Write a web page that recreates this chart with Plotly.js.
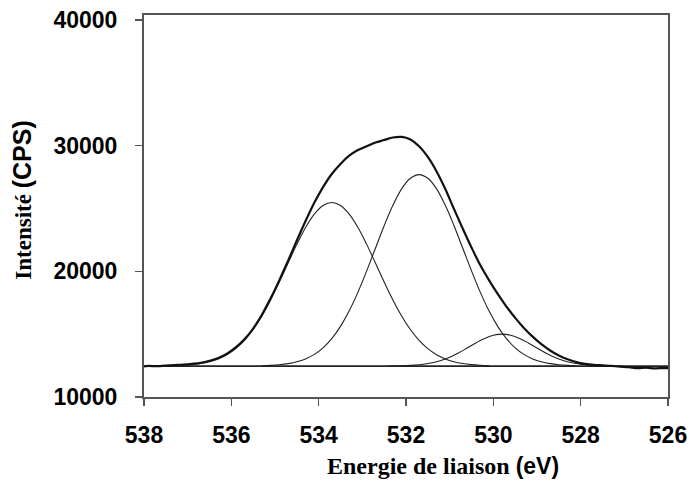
<!DOCTYPE html>
<html>
<head>
<meta charset="utf-8">
<script src="https://cdn.plot.ly/plotly-3.0.1.min.js"></script>
<style>html,body{margin:0;padding:0;background:#fff;}#chart{width:694px;height:488px;}</style>
</head>
<body>
<div id="chart"></div>
<script>
// Measured spectrum (envelope)
var envE = [538.0,537.9,537.7,537.5,537.3,537.1,536.9,536.7,536.5,536.3,536.1,535.9,535.7,535.5,535.3,535.1,534.9,534.7,534.5,534.3,534.1,533.9,533.7,533.5,533.3,533.1,532.9,532.7,532.5,532.3,532.1,531.9,531.7,531.5,531.3,531.1,530.9,530.7,530.5,530.3,530.1,529.9,529.7,529.5,529.3,529.1,528.9,528.7,528.5,528.3,528.1,527.9,527.7,527.5,527.3,527.1,526.9,526.7,526.5,526.3,526.1,526.0];
var envI = [12440,12470,12450,12500,12540,12580,12640,12720,12880,13100,13450,13950,14600,15450,16550,17850,19300,20850,22450,24000,25450,26700,27750,28550,29200,29650,29950,30250,30450,30650,30700,30500,29950,29100,27950,26550,24950,23400,21900,20500,19300,18200,17200,16300,15500,14800,14200,13700,13300,13000,12780,12640,12560,12520,12470,12420,12380,12300,12330,12280,12300,12290];

// Component 1 (~533.7 eV)
var c1E = [537.3,537.1,536.9,536.7,536.5,536.3,536.1,535.9,535.7,535.5,535.3,535.1,534.9,534.7,534.5,534.3,534.1,533.9,533.7,533.5,533.3,533.1,532.9,532.7,532.5,532.3,532.1,531.9,531.7,531.5,531.3,531.1,530.9,530.7,530.5,530.3,530.1];
var c1I = [12493,12522,12575,12663,12807,13032,13367,13849,14508,15371,16447,17721,19151,20660,22146,23484,24552,25242,25480,25242,24552,23484,22146,20660,19151,17721,16447,15371,14508,13849,13367,13032,12807,12663,12575,12522,12493];

// Component 2 (~531.7 eV)
var c2E = [535.3,535.1,534.9,534.7,534.5,534.3,534.1,533.9,533.7,533.5,533.3,533.1,532.9,532.7,532.5,532.3,532.1,531.9,531.7,531.5,531.3,531.1,530.9,530.7,530.5,530.3,530.1,529.9,529.7,529.5,529.3,529.1,528.9,528.7,528.5,528.3,528.1];
var c2I = [12489,12516,12565,12654,12798,13033,13390,13914,14647,15622,16858,18346,20036,21839,23629,25255,26562,27407,27700,27407,26562,25255,23629,21839,20036,18346,16858,15622,14647,13914,13390,13033,12798,12654,12565,12516,12489];

// Component 3 (~529.8 eV)
var c3E = [532.4,532.2,532.0,531.8,531.6,531.4,531.2,531.0,530.8,530.6,530.4,530.2,530.0,529.8,529.6,529.4,529.2,529.0,528.8,528.6,528.4,528.2,528.0,527.8,527.6,527.4,527.2];
var c3I = [12466,12475,12494,12533,12602,12721,12905,13166,13504,13898,14304,14663,14911,15000,14911,14663,14304,13898,13504,13166,12905,12721,12602,12533,12494,12475,12466];

// Background line
var bgE = [538.0, 526.0];
var bgI = [12460, 12460];

var xTicks = [538,536,534,532,530,528,526];
var xTickText = ['538','536','534','532','530','528','526'];
var yTicks = [10000,20000,30000,40000];
var yTickText = ['10000','20000','30000','40000'];

var compLine = {color:'#222', width:1.1, shape:'spline'};
var traces = [
  {x:bgE, y:bgI, mode:'lines', line:{color:'#222', width:1.6}, hoverinfo:'skip'},
  {x:c1E, y:c1I, mode:'lines', line:compLine},
  {x:c2E, y:c2I, mode:'lines', line:compLine},
  {x:c3E, y:c3I, mode:'lines', line:compLine},
  {x:envE, y:envI, mode:'lines', line:{color:'#111', width:2.2, shape:'spline'}}
];

var tickFont = {family:'Liberation Sans, Arial, sans-serif', size:23, weight:'bold', color:'#000'};
var axisCommon = {showgrid:false, zeroline:false, ticks:'outside', ticklen:7, tickwidth:1.5, tickcolor:'#555',
  showline:true, linecolor:'#555', linewidth:2, mirror:true, tickfont:tickFont};

var layout = {
  width:694, height:488,
  margin:{l:144, r:26, t:15, b:91},
  paper_bgcolor:'#fff', plot_bgcolor:'#fff',
  showlegend:false,
  xaxis:Object.assign({}, axisCommon, {range:[538,526], tickvals:xTicks, ticktext:xTickText, ticklabelstandoff:9}),
  yaxis:Object.assign({}, axisCommon, {range:[10000,40400], tickvals:yTicks, ticktext:yTickText, ticklabelstandoff:13}),
  annotations:[
    {xref:'paper', yref:'paper', x:0.5706, y:-0.1806, xanchor:'center', yanchor:'middle', showarrow:false,
     text:'<b>Energie de liaison </b><span style="font-family:Liberation Sans, Arial, sans-serif;font-size:23px"><b>(eV)</b></span>',
     font:{family:'Liberation Serif, Times New Roman, serif', size:24, color:'#000'}},
    {xref:'paper', yref:'paper', x:-0.2328, y:0.514, xanchor:'center', yanchor:'middle', textangle:-90, showarrow:false,
     text:'<b>Intensité </b><span style="font-family:Liberation Sans, Arial, sans-serif;font-size:25px"><b>(CPS)</b></span>',
     font:{family:'Liberation Serif, Times New Roman, serif', size:23, color:'#000'}}
  ]
};

Plotly.newPlot('chart', traces, layout, {staticPlot:true, displayModeBar:false});
</script>
</body>
</html>
